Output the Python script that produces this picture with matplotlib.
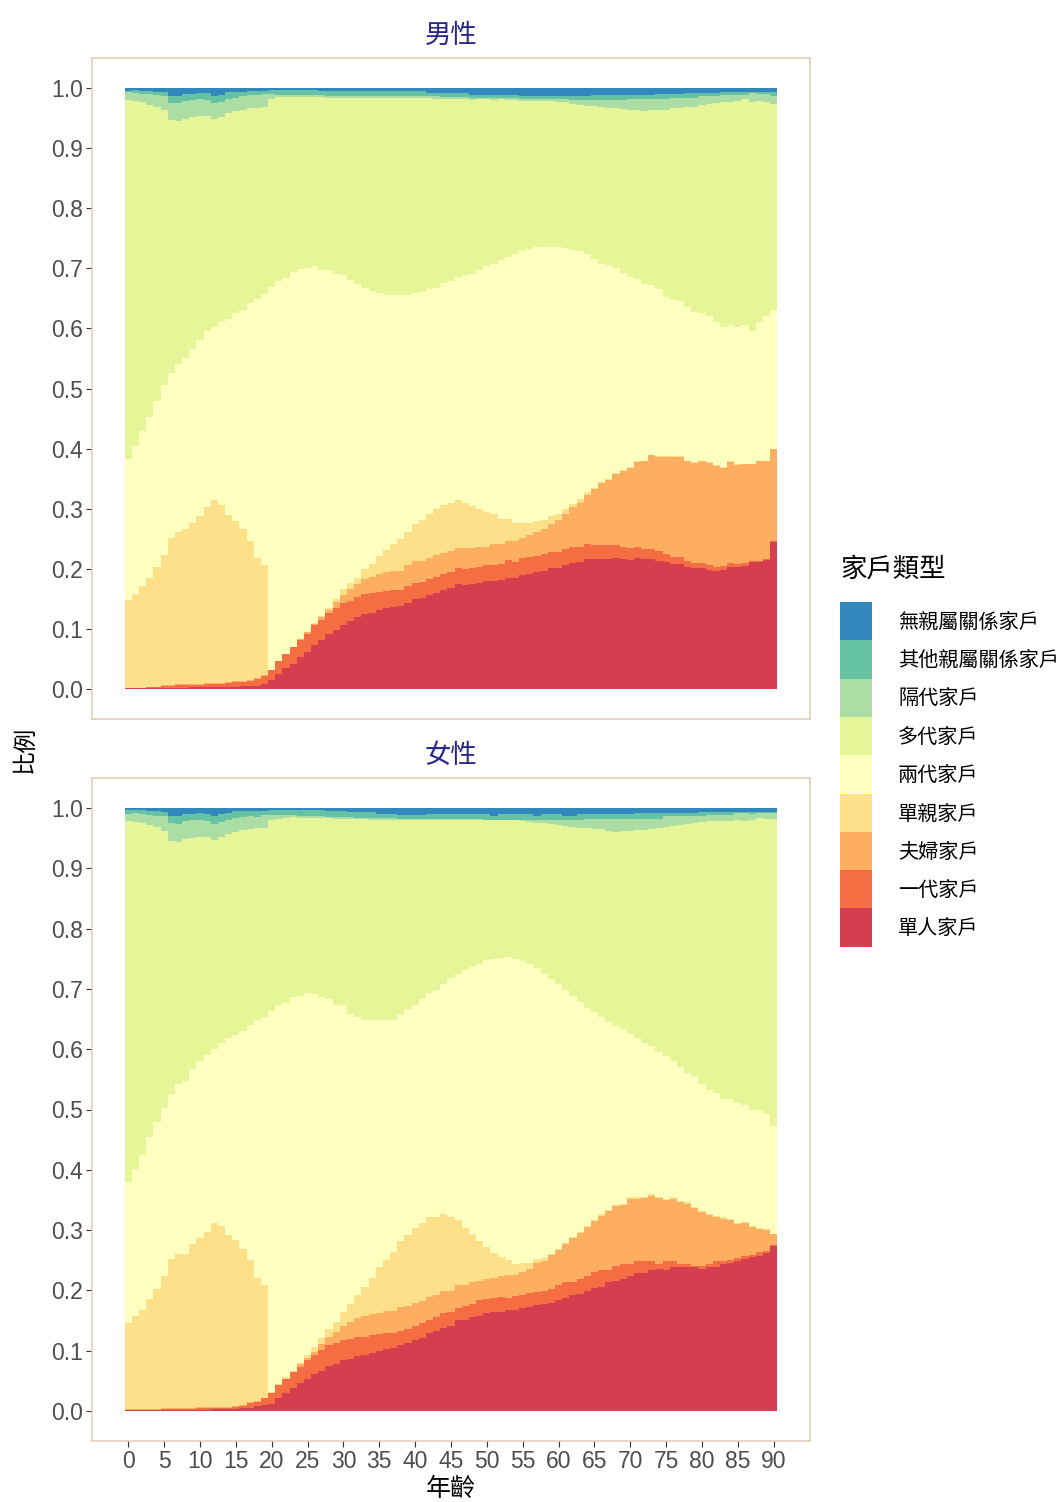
import numpy as np
import matplotlib
matplotlib.use('Agg')
import matplotlib.pyplot as plt
from matplotlib.patches import Rectangle

plt.rcParams['font.family'] = ['Liberation Sans', 'Noto Sans CJK TC']

# Household types, stacking order from bottom to top
categories = ['單人家戶', '一代家戶', '夫婦家戶', '單親家戶', '兩代家戶',
              '多代家戶', '隔代家戶', '其他親屬關係家戶', '無親屬關係家戶']
colors = ['#D53E4F', '#F46D43', '#FDAE61', '#FEE08B', '#FFFFBF',
          '#E6F598', '#ABDDA4', '#66C2A5', '#3288BD']

ages = list(range(0, 91))

# Cumulative upper edge of each layer, male panel
m_top_single = [
    0.002, 0.002, 0.002, 0.002, 0.002, 0.002, 0.002, 0.002, 0.002, 0.004,
    0.004, 0.004, 0.004, 0.004, 0.004, 0.004, 0.005, 0.005, 0.005, 0.008,
    0.015, 0.025, 0.035, 0.042, 0.053, 0.061, 0.073, 0.081, 0.091, 0.098,
    0.106, 0.113, 0.119, 0.125, 0.126, 0.131, 0.135, 0.136, 0.138, 0.143,
    0.149, 0.151, 0.156, 0.159, 0.164, 0.168, 0.174, 0.173, 0.174, 0.176,
    0.179, 0.179, 0.181, 0.184, 0.184, 0.189, 0.191, 0.194, 0.196, 0.201,
    0.201, 0.206, 0.209, 0.211, 0.216, 0.216, 0.216, 0.216, 0.218, 0.216,
    0.214, 0.218, 0.216, 0.216, 0.213, 0.211, 0.208, 0.208, 0.203, 0.201,
    0.201, 0.198, 0.196, 0.198, 0.203, 0.203, 0.204, 0.211, 0.211, 0.214,
    0.244]
m_top_onegen = [
    0.002, 0.002, 0.002, 0.003, 0.003, 0.005, 0.005, 0.007, 0.007, 0.007,
    0.007, 0.008, 0.008, 0.008, 0.010, 0.012, 0.012, 0.013, 0.017, 0.021,
    0.032, 0.047, 0.058, 0.070, 0.081, 0.091, 0.106, 0.115, 0.126, 0.135,
    0.143, 0.146, 0.153, 0.158, 0.159, 0.161, 0.163, 0.164, 0.164, 0.171,
    0.176, 0.178, 0.183, 0.186, 0.191, 0.194, 0.201, 0.199, 0.201, 0.203,
    0.206, 0.206, 0.208, 0.214, 0.212, 0.218, 0.219, 0.221, 0.224, 0.228,
    0.228, 0.233, 0.236, 0.236, 0.241, 0.239, 0.239, 0.239, 0.239, 0.237,
    0.234, 0.237, 0.233, 0.233, 0.229, 0.224, 0.219, 0.219, 0.213, 0.209,
    0.209, 0.206, 0.203, 0.204, 0.209, 0.208, 0.209, 0.213, 0.213, 0.216,
    0.246]
m_top_couple = [
    0.002, 0.002, 0.002, 0.003, 0.003, 0.007, 0.007, 0.009, 0.009, 0.009,
    0.009, 0.010, 0.010, 0.010, 0.012, 0.014, 0.014, 0.015, 0.019, 0.023,
    0.032, 0.047, 0.058, 0.070, 0.083, 0.094, 0.108, 0.120, 0.132, 0.145,
    0.156, 0.166, 0.174, 0.183, 0.186, 0.191, 0.194, 0.197, 0.197, 0.207,
    0.213, 0.213, 0.218, 0.223, 0.226, 0.229, 0.234, 0.234, 0.234, 0.236,
    0.237, 0.241, 0.241, 0.246, 0.246, 0.252, 0.257, 0.261, 0.266, 0.274,
    0.281, 0.291, 0.302, 0.309, 0.322, 0.332, 0.342, 0.348, 0.357, 0.363,
    0.368, 0.377, 0.379, 0.389, 0.386, 0.386, 0.386, 0.386, 0.379, 0.376,
    0.379, 0.376, 0.371, 0.368, 0.378, 0.373, 0.374, 0.374, 0.379, 0.379,
    0.399]
m_top_singleparent = [
    0.148, 0.158, 0.171, 0.184, 0.203, 0.223, 0.252, 0.261, 0.267, 0.276,
    0.287, 0.302, 0.314, 0.306, 0.289, 0.279, 0.266, 0.246, 0.218, 0.206,
    0.032, 0.047, 0.058, 0.070, 0.083, 0.094, 0.110, 0.122, 0.135, 0.150,
    0.166, 0.177, 0.185, 0.199, 0.208, 0.222, 0.231, 0.241, 0.249, 0.262,
    0.274, 0.281, 0.291, 0.299, 0.306, 0.309, 0.314, 0.309, 0.304, 0.299,
    0.294, 0.291, 0.282, 0.282, 0.277, 0.277, 0.277, 0.279, 0.281, 0.287,
    0.291, 0.299, 0.307, 0.316, 0.327, 0.334, 0.344, 0.350, 0.359, 0.365,
    0.370, 0.379, 0.380, 0.390, 0.387, 0.387, 0.387, 0.387, 0.380, 0.377,
    0.380, 0.377, 0.372, 0.369, 0.379, 0.374, 0.375, 0.375, 0.380, 0.380,
    0.400]
m_top_twogen = [
    0.382, 0.404, 0.429, 0.452, 0.480, 0.505, 0.525, 0.540, 0.551, 0.566,
    0.581, 0.595, 0.603, 0.611, 0.616, 0.626, 0.631, 0.643, 0.649, 0.658,
    0.669, 0.679, 0.684, 0.694, 0.699, 0.701, 0.704, 0.698, 0.698, 0.691,
    0.689, 0.681, 0.674, 0.668, 0.663, 0.659, 0.656, 0.655, 0.655, 0.656,
    0.659, 0.661, 0.666, 0.668, 0.676, 0.679, 0.686, 0.689, 0.691, 0.698,
    0.704, 0.708, 0.714, 0.719, 0.724, 0.728, 0.732, 0.735, 0.736, 0.736,
    0.735, 0.733, 0.731, 0.728, 0.723, 0.716, 0.708, 0.706, 0.701, 0.693,
    0.686, 0.683, 0.674, 0.673, 0.666, 0.653, 0.648, 0.645, 0.636, 0.628,
    0.625, 0.620, 0.610, 0.603, 0.606, 0.603, 0.606, 0.596, 0.611, 0.620,
    0.630]
m_top_multigen = [
    0.980, 0.978, 0.977, 0.972, 0.968, 0.963, 0.947, 0.945, 0.948, 0.952,
    0.953, 0.953, 0.948, 0.952, 0.958, 0.962, 0.963, 0.967, 0.967, 0.968,
    0.982, 0.985, 0.985, 0.985, 0.985, 0.985, 0.985, 0.985, 0.983, 0.983,
    0.983, 0.983, 0.983, 0.983, 0.983, 0.983, 0.983, 0.983, 0.983, 0.983,
    0.983, 0.983, 0.983, 0.982, 0.982, 0.982, 0.982, 0.982, 0.980, 0.982,
    0.982, 0.980, 0.982, 0.980, 0.980, 0.978, 0.978, 0.978, 0.978, 0.978,
    0.976, 0.976, 0.973, 0.972, 0.970, 0.970, 0.968, 0.967, 0.967, 0.965,
    0.963, 0.963, 0.962, 0.963, 0.963, 0.963, 0.967, 0.967, 0.968, 0.968,
    0.972, 0.973, 0.975, 0.977, 0.977, 0.978, 0.982, 0.977, 0.978, 0.977,
    0.973]
m_top_skipgen = [
    0.993, 0.992, 0.990, 0.990, 0.988, 0.987, 0.975, 0.975, 0.978, 0.980,
    0.982, 0.980, 0.975, 0.977, 0.982, 0.983, 0.987, 0.988, 0.988, 0.990,
    0.990, 0.988, 0.988, 0.988, 0.988, 0.988, 0.988, 0.988, 0.986, 0.986,
    0.986, 0.986, 0.986, 0.986, 0.986, 0.986, 0.986, 0.986, 0.986, 0.986,
    0.986, 0.986, 0.986, 0.986, 0.985, 0.985, 0.985, 0.985, 0.983, 0.983,
    0.983, 0.983, 0.983, 0.983, 0.983, 0.982, 0.982, 0.982, 0.982, 0.982,
    0.981, 0.981, 0.980, 0.980, 0.980, 0.980, 0.980, 0.980, 0.980, 0.980,
    0.981, 0.981, 0.981, 0.981, 0.981, 0.981, 0.983, 0.983, 0.983, 0.983,
    0.986, 0.986, 0.986, 0.989, 0.989, 0.989, 0.989, 0.991, 0.990, 0.990,
    0.987]
m_top_otherkin = [
    0.995, 0.997, 0.995, 0.995, 0.994, 0.993, 0.987, 0.987, 0.990, 0.990,
    0.992, 0.992, 0.987, 0.988, 0.993, 0.993, 0.994, 0.995, 0.995, 0.995,
    0.996, 0.996, 0.996, 0.996, 0.996, 0.996, 0.996, 0.995, 0.995, 0.995,
    0.995, 0.995, 0.995, 0.995, 0.995, 0.995, 0.995, 0.995, 0.995, 0.995,
    0.995, 0.995, 0.992, 0.992, 0.992, 0.992, 0.992, 0.992, 0.988, 0.988,
    0.988, 0.988, 0.988, 0.988, 0.988, 0.986, 0.986, 0.986, 0.986, 0.986,
    0.986, 0.986, 0.986, 0.986, 0.986, 0.988, 0.988, 0.988, 0.988, 0.988,
    0.988, 0.988, 0.988, 0.988, 0.990, 0.990, 0.990, 0.990, 0.992, 0.992,
    0.992, 0.992, 0.992, 0.994, 0.994, 0.994, 0.994, 0.994, 0.993, 0.994,
    0.993]

# Female panel
f_top_single = [
    0.002, 0.001, 0.001, 0.002, 0.002, 0.002, 0.002, 0.002, 0.002, 0.002,
    0.002, 0.002, 0.003, 0.003, 0.003, 0.003, 0.004, 0.004, 0.008, 0.010,
    0.012, 0.022, 0.030, 0.038, 0.046, 0.053, 0.061, 0.066, 0.075, 0.078,
    0.085, 0.086, 0.091, 0.093, 0.096, 0.100, 0.103, 0.105, 0.110, 0.113,
    0.118, 0.121, 0.130, 0.133, 0.138, 0.141, 0.150, 0.151, 0.156, 0.158,
    0.163, 0.164, 0.164, 0.168, 0.168, 0.171, 0.173, 0.176, 0.178, 0.179,
    0.184, 0.188, 0.193, 0.194, 0.199, 0.204, 0.206, 0.213, 0.216, 0.218,
    0.224, 0.228, 0.229, 0.233, 0.236, 0.233, 0.239, 0.238, 0.238, 0.238,
    0.236, 0.238, 0.239, 0.243, 0.246, 0.249, 0.252, 0.256, 0.257, 0.262,
    0.274]
f_top_onegen = [
    0.002, 0.002, 0.002, 0.002, 0.002, 0.003, 0.003, 0.003, 0.003, 0.003,
    0.004, 0.004, 0.004, 0.004, 0.005, 0.006, 0.008, 0.013, 0.015, 0.022,
    0.030, 0.043, 0.053, 0.065, 0.073, 0.085, 0.093, 0.101, 0.110, 0.113,
    0.118, 0.120, 0.123, 0.123, 0.126, 0.128, 0.130, 0.130, 0.133, 0.136,
    0.141, 0.145, 0.151, 0.156, 0.163, 0.164, 0.171, 0.174, 0.178, 0.184,
    0.186, 0.188, 0.189, 0.188, 0.191, 0.193, 0.196, 0.198, 0.199, 0.203,
    0.208, 0.213, 0.214, 0.219, 0.223, 0.231, 0.234, 0.234, 0.241, 0.243,
    0.244, 0.248, 0.248, 0.248, 0.244, 0.248, 0.248, 0.243, 0.243, 0.241,
    0.241, 0.243, 0.248, 0.249, 0.251, 0.254, 0.257, 0.259, 0.264, 0.266,
    0.276]
f_top_couple = [
    0.003, 0.003, 0.003, 0.003, 0.003, 0.005, 0.005, 0.005, 0.005, 0.005,
    0.006, 0.006, 0.006, 0.006, 0.007, 0.008, 0.010, 0.015, 0.016, 0.022,
    0.030, 0.043, 0.053, 0.065, 0.078, 0.088, 0.098, 0.111, 0.123, 0.131,
    0.141, 0.148, 0.154, 0.158, 0.161, 0.163, 0.166, 0.166, 0.173, 0.174,
    0.179, 0.183, 0.189, 0.193, 0.199, 0.199, 0.208, 0.209, 0.213, 0.216,
    0.219, 0.221, 0.223, 0.226, 0.226, 0.231, 0.236, 0.246, 0.249, 0.259,
    0.267, 0.277, 0.287, 0.295, 0.305, 0.315, 0.324, 0.332, 0.340, 0.342,
    0.352, 0.352, 0.353, 0.357, 0.353, 0.350, 0.352, 0.347, 0.344, 0.337,
    0.330, 0.325, 0.322, 0.319, 0.317, 0.310, 0.312, 0.305, 0.302, 0.300,
    0.293]
f_top_singleparent = [
    0.146, 0.158, 0.168, 0.186, 0.203, 0.224, 0.252, 0.261, 0.261, 0.277,
    0.286, 0.297, 0.312, 0.306, 0.292, 0.284, 0.269, 0.251, 0.221, 0.208,
    0.031, 0.045, 0.056, 0.066, 0.080, 0.093, 0.106, 0.121, 0.136, 0.148,
    0.164, 0.178, 0.193, 0.206, 0.221, 0.238, 0.251, 0.264, 0.281, 0.291,
    0.304, 0.312, 0.322, 0.322, 0.327, 0.322, 0.316, 0.304, 0.294, 0.282,
    0.272, 0.262, 0.256, 0.251, 0.244, 0.246, 0.246, 0.252, 0.254, 0.261,
    0.269, 0.279, 0.289, 0.297, 0.307, 0.317, 0.326, 0.334, 0.342, 0.344,
    0.354, 0.354, 0.355, 0.359, 0.355, 0.352, 0.354, 0.349, 0.346, 0.339,
    0.332, 0.327, 0.324, 0.321, 0.319, 0.312, 0.314, 0.307, 0.304, 0.302,
    0.294]
f_top_twogen = [
    0.380, 0.402, 0.425, 0.455, 0.480, 0.502, 0.525, 0.542, 0.548, 0.568,
    0.580, 0.591, 0.600, 0.610, 0.618, 0.623, 0.631, 0.641, 0.648, 0.653,
    0.663, 0.674, 0.676, 0.686, 0.689, 0.693, 0.691, 0.686, 0.683, 0.673,
    0.673, 0.659, 0.654, 0.649, 0.648, 0.648, 0.649, 0.649, 0.658, 0.666,
    0.674, 0.683, 0.693, 0.699, 0.709, 0.718, 0.724, 0.731, 0.736, 0.741,
    0.748, 0.749, 0.751, 0.753, 0.749, 0.746, 0.741, 0.734, 0.724, 0.716,
    0.708, 0.698, 0.689, 0.679, 0.669, 0.661, 0.653, 0.646, 0.638, 0.633,
    0.626, 0.618, 0.611, 0.605, 0.595, 0.588, 0.580, 0.571, 0.561, 0.555,
    0.542, 0.533, 0.527, 0.517, 0.518, 0.510, 0.507, 0.500, 0.500, 0.492,
    0.473]
f_top_multigen = [
    0.978, 0.977, 0.975, 0.972, 0.968, 0.962, 0.945, 0.943, 0.948, 0.950,
    0.952, 0.952, 0.947, 0.952, 0.957, 0.960, 0.963, 0.965, 0.967, 0.967,
    0.980, 0.982, 0.983, 0.985, 0.983, 0.983, 0.983, 0.983, 0.983, 0.982,
    0.982, 0.982, 0.982, 0.982, 0.980, 0.980, 0.980, 0.980, 0.980, 0.980,
    0.980, 0.980, 0.980, 0.980, 0.980, 0.980, 0.980, 0.980, 0.980, 0.980,
    0.980, 0.980, 0.980, 0.980, 0.980, 0.978, 0.977, 0.975, 0.975, 0.973,
    0.972, 0.970, 0.968, 0.967, 0.967, 0.965, 0.965, 0.962, 0.960, 0.962,
    0.962, 0.963, 0.963, 0.965, 0.967, 0.968, 0.970, 0.972, 0.973, 0.975,
    0.977, 0.978, 0.978, 0.978, 0.978, 0.980, 0.978, 0.980, 0.983, 0.982,
    0.982]
f_top_skipgen = [
    0.990, 0.992, 0.990, 0.988, 0.987, 0.987, 0.975, 0.973, 0.978, 0.980,
    0.980, 0.978, 0.973, 0.977, 0.980, 0.983, 0.985, 0.987, 0.985, 0.988,
    0.988, 0.988, 0.988, 0.988, 0.987, 0.987, 0.987, 0.987, 0.985, 0.985,
    0.985, 0.985, 0.983, 0.983, 0.983, 0.983, 0.983, 0.983, 0.982, 0.982,
    0.982, 0.982, 0.982, 0.982, 0.982, 0.982, 0.982, 0.982, 0.982, 0.982,
    0.981, 0.981, 0.981, 0.981, 0.980, 0.980, 0.980, 0.980, 0.981, 0.981,
    0.981, 0.981, 0.981, 0.981, 0.982, 0.982, 0.982, 0.982, 0.982, 0.982,
    0.982, 0.982, 0.982, 0.982, 0.982, 0.987, 0.987, 0.987, 0.987, 0.987,
    0.987, 0.988, 0.988, 0.988, 0.988, 0.992, 0.992, 0.990, 0.992, 0.992,
    0.992]
f_top_otherkin = [
    0.997, 0.997, 0.997, 0.995, 0.995, 0.993, 0.987, 0.987, 0.990, 0.990,
    0.992, 0.990, 0.987, 0.990, 0.992, 0.995, 0.995, 0.995, 0.995, 0.995,
    0.997, 0.997, 0.997, 0.997, 0.997, 0.997, 0.997, 0.997, 0.995, 0.995,
    0.995, 0.993, 0.993, 0.993, 0.993, 0.990, 0.990, 0.990, 0.988, 0.988,
    0.988, 0.988, 0.990, 0.990, 0.990, 0.990, 0.990, 0.990, 0.990, 0.990,
    0.990, 0.987, 0.990, 0.990, 0.990, 0.990, 0.990, 0.987, 0.990, 0.990,
    0.990, 0.987, 0.987, 0.990, 0.990, 0.990, 0.990, 0.990, 0.990, 0.990,
    0.990, 0.992, 0.992, 0.992, 0.992, 0.992, 0.992, 0.992, 0.992, 0.992,
    0.994, 0.994, 0.994, 0.994, 0.994, 0.994, 0.994, 0.994, 0.994, 0.994,
    0.994]

panels = [
    ('男性', [m_top_single, m_top_onegen, m_top_couple, m_top_singleparent,
             m_top_twogen, m_top_multigen, m_top_skipgen, m_top_otherkin]),
    ('女性', [f_top_single, f_top_onegen, f_top_couple, f_top_singleparent,
             f_top_twogen, f_top_multigen, f_top_skipgen, f_top_otherkin]),
]

W, H = 1062, 1502
fig = plt.figure(figsize=(W / 100, H / 100), dpi=100)

border = '#e0cdb2'
title_color = '#282888'
tick_color = '#4d4d4d'

# panel boxes in pixels: (top, bottom)
boxes = [(58, 719), (778, 1441)]
left_px, right_px = 92, 810

axes = []
for (title, tops), (t, b) in zip(panels, boxes):
    ax = fig.add_axes([left_px / W, 1 - b / H, (right_px - left_px) / W, (b - t) / H])
    upper = np.vstack([np.array(tops), np.ones(len(ages))])
    lower = np.vstack([np.zeros(len(ages)), upper[:-1]])
    share = upper - lower
    for i, cat in enumerate(categories):
        ax.bar(ages, share[i], bottom=lower[i], width=1.0, color=colors[i],
               linewidth=0, antialiased=False)
    ax.set_xlim(-0.5 - 4.55, 90.5 + 4.55)
    ax.set_ylim(-0.05, 1.05)
    ax.set_yticks(np.arange(0, 1.01, 0.1))
    ax.set_yticklabels(['%.1f' % v for v in np.arange(0, 1.01, 0.1)])
    ax.set_xticks(range(0, 91, 5))
    for s in ax.spines.values():
        s.set_color(border)
        s.set_linewidth(1.1)
    ax.tick_params(axis='both', length=4, width=0.8, color='#333333',
                   labelcolor=tick_color, labelsize=16.5, pad=2.5)
    # panel strip title, centred about 22 px above the panel box
    ax.text(0.5, 1 + 22 / (b - t), title, transform=ax.transAxes,
            ha='center', va='center', fontsize=19, color=title_color)
    axes.append(ax)

axes[0].tick_params(axis='x', bottom=False, labelbottom=False)

fig.text(25 / W, 1 - 749 / H, '比例', rotation=90, ha='center', va='center',
         fontsize=17, color='black')
fig.text(451 / W, 1 - 1489 / H, '年齡', ha='center', va='center',
         fontsize=18, color='black')

# legend (top entry = top of the stack)
fig.text(840 / W, 1 - 569 / H, '家戶類型', ha='left', va='center',
         fontsize=19, color='black')
key_h = 38.3
for j, i in enumerate(range(len(categories) - 1, -1, -1)):
    y0 = 602 + key_h * j
    fig.add_artist(Rectangle((840 / W, 1 - (y0 + key_h) / H), 32 / W, key_h / H,
                             transform=fig.transFigure, facecolor=colors[i],
                             edgecolor='none'))
    fig.text(898 / W, 1 - (y0 + key_h / 2 + 1) / H, categories[i], ha='left',
             va='center', fontsize=14.5, color='black')

fig.savefig('out.png', dpi=100)
